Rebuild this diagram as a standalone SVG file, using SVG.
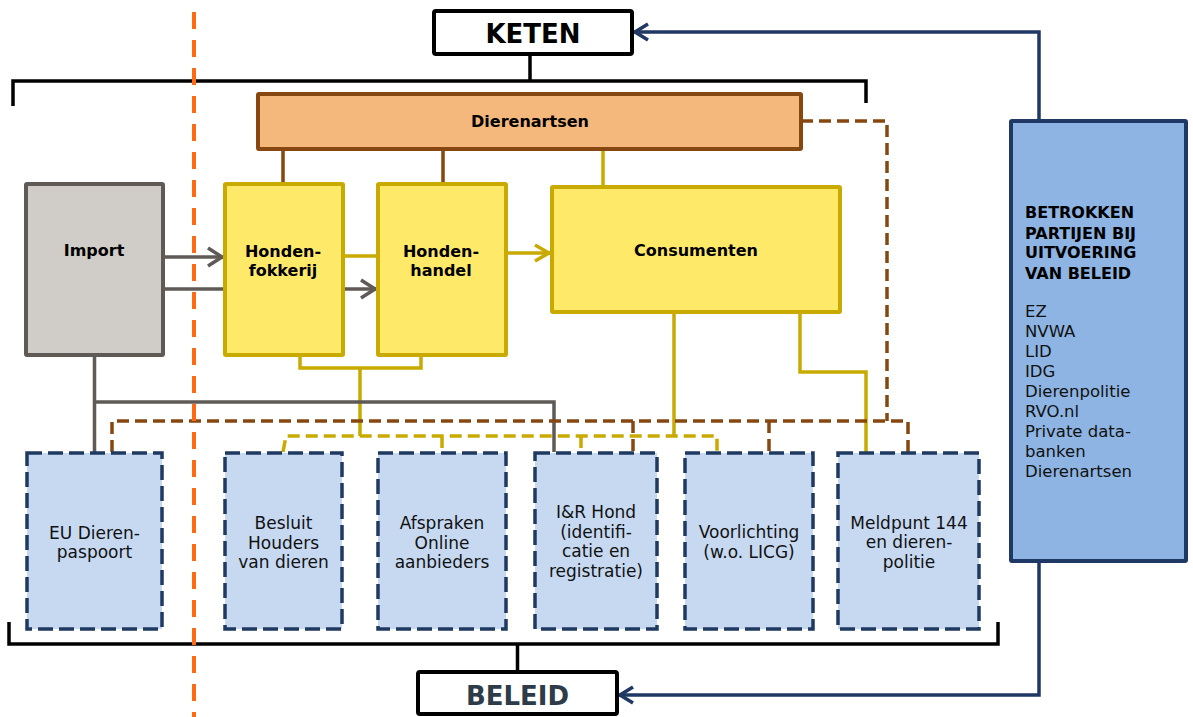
<svg xmlns="http://www.w3.org/2000/svg" width="1193" height="717" viewBox="0 0 1193 717">
<defs>
<style>
text{font-family:"DejaVu Sans",Verdana,"Liberation Sans",sans-serif}
.b{font-weight:bold;font-size:16px;fill:#000;text-anchor:middle}
.n{font-size:17px;fill:#111;text-anchor:middle}
.s{font-size:16.5px;fill:#111}
.sb{font-size:16px;font-weight:bold;fill:#000}
.title{font-weight:bold;font-size:26px;text-anchor:middle}
.frame{fill:#fff;stroke:#000;stroke-width:4}
.yellow{fill:#FFE969;stroke:#C8AA00;stroke-width:4}
.pol{fill:#C6D9F1;stroke:#1F3A60;stroke-width:3.5;stroke-dasharray:15 6}
.line{fill:none;stroke-width:3.5}
.blk{stroke:#000}
.brn{stroke:#874710}
.ylw{stroke:#C8AA00}
.gry{stroke:#5F5A55}
.nav{stroke:#1F3864}
.dsh{stroke-dasharray:12 6}
</style>
<marker id="ag" markerUnits="userSpaceOnUse" viewBox="-18 -11 20 22" markerWidth="20" markerHeight="22" refX="0" refY="0" orient="auto">
<path d="M-15 -9 L-1 0 L-15 9" fill="none" stroke="#5F5A55" stroke-width="3.5"/>
</marker>
<marker id="ay" markerUnits="userSpaceOnUse" viewBox="-18 -11 20 22" markerWidth="20" markerHeight="22" refX="0" refY="0" orient="auto">
<path d="M-15 -8 L-1 0 L-15 8" fill="none" stroke="#C8AA00" stroke-width="3.5"/>
</marker>
<marker id="an" markerUnits="userSpaceOnUse" viewBox="-18 -11 20 22" markerWidth="20" markerHeight="22" refX="0" refY="0" orient="auto">
<path d="M-14 -8 L-1 0 L-14 8" fill="none" stroke="#1F3864" stroke-width="3.5"/>
</marker>
</defs>
<rect width="1193" height="717" fill="#fff"/>

<g id="connectors">
<path class="line blk" d="M13 106 V81 H866 V103"/>
<path class="line blk" d="M530 54 V81"/>
<path class="line blk" d="M9 622 V644 H998 V622"/>
<path class="line blk" d="M517.5 644 V672"/>
<path class="line brn" d="M283 149 V184 M443 149 V184"/>
<path class="line ylw" d="M603 149 V187"/>
<path class="line gry" d="M163 257 H223" marker-end="url(#ag)"/>
<path class="line gry" d="M163 289 H376" marker-end="url(#ag)"/>
<path class="line ylw" d="M343 256 H378"/>
<path class="line ylw" d="M506 253 H550" marker-end="url(#ay)"/>
<path class="line ylw" d="M300 355 V368 H421 V355 M360 368 V436 M674 312 V436"/>
<path class="line ylw dsh" d="M283 452 L286 436 H717 V452 M442 436 V452 M581 436 V452"/>
<path class="line ylw" d="M800 312 V372 H866 V452"/>
<path class="line gry" d="M94.5 355 V452 M94.5 402 H554 V452"/>
<path class="line brn dsh" d="M801 121 H887 V421"/>
<path class="line brn dsh" d="M112 452 V421 H908 V452 M633 421 V452 M769 421 V452"/>
<path class="line nav" d="M1039 121 V32 H634" marker-end="url(#an)"/>
<path class="line nav" d="M1039 561 V695 H619" marker-end="url(#an)"/>
</g>

<g id="keten">
<rect class="frame" x="434" y="11" width="198" height="43" rx="2"/>
<text class="title" x="533" y="43" fill="#000">KETEN</text>
</g>
<g id="beleid">
<rect class="frame" x="418" y="672" width="199" height="42" rx="2"/>
<text class="title" x="517.5" y="705" fill="#2E3B48">BELEID</text>
</g>
<g id="dierenartsen">
<rect x="258" y="94" width="543" height="55" fill="#F4B77C" stroke="#874710" stroke-width="4" rx="1"/>
<text class="b" x="530" y="127">Dierenartsen</text>
</g>
<g id="import">
<rect x="26" y="184" width="137" height="171" fill="#D0CCC7" stroke="#5F5A55" stroke-width="4" rx="1"/>
<text class="b" x="94" y="256">Import</text>
</g>
<g id="hondenfokkerij">
<rect class="yellow" x="225" y="184" width="118" height="171" rx="1"/>
<text class="b" x="283" y="257">Honden-</text>
<text class="b" x="283" y="276">fokkerij</text>
</g>
<g id="hondenhandel">
<rect class="yellow" x="378" y="184" width="128" height="171" rx="1"/>
<text class="b" x="441" y="257">Honden-</text>
<text class="b" x="441" y="276">handel</text>
</g>
<g id="consumenten">
<rect class="yellow" x="552" y="187" width="288" height="125" rx="1"/>
<text class="b" x="696" y="256">Consumenten</text>
</g>
<g id="eu-dierenpaspoort">
<rect class="pol" x="27" y="453" width="135" height="176"/>
<text class="n" x="94.5" y="539">EU Dieren-</text>
<text class="n" x="94.5" y="558">paspoort</text>
</g>
<g id="besluit">
<rect class="pol" x="225" y="453" width="117" height="176"/>
<text class="n" x="283.5" y="529">Besluit</text>
<text class="n" x="283.5" y="549">Houders</text>
<text class="n" x="283.5" y="568">van dieren</text>
</g>
<g id="afspraken">
<rect class="pol" x="378" y="453" width="128" height="176"/>
<text class="n" x="442" y="529">Afspraken</text>
<text class="n" x="442" y="549">Online</text>
<text class="n" x="442" y="568">aanbieders</text>
</g>
<g id="ir-hond">
<rect class="pol" x="535" y="453" width="122" height="176"/>
<text class="n" x="596" y="518">I&amp;R Hond</text>
<text class="n" x="596" y="538">(identifi-</text>
<text class="n" x="596" y="557">catie en</text>
<text class="n" x="596" y="577">registratie)</text>
</g>
<g id="voorlichting">
<rect class="pol" x="685" y="453" width="128" height="176"/>
<text class="n" x="749" y="538">Voorlichting</text>
<text class="n" x="749" y="558">(w.o. LICG)</text>
</g>
<g id="meldpunt">
<rect class="pol" x="838" y="453" width="141" height="176"/>
<text class="n" x="909" y="529">Meldpunt 144</text>
<text class="n" x="909" y="548">en dieren-</text>
<text class="n" x="909" y="568">politie</text>
</g>
<g id="betrokken-partijen">
<rect x="1011" y="121" width="175" height="440" fill="#8EB4E3" stroke="#1F3864" stroke-width="4" rx="1"/>
<text class="sb" x="1025" y="218">BETROKKEN</text>
<text class="sb" x="1025" y="239">PARTIJEN BIJ</text>
<text class="sb" x="1025" y="258">UITVOERING</text>
<text class="sb" x="1025" y="279">VAN BELEID</text>
<text class="s" x="1025" y="317">EZ</text>
<text class="s" x="1025" y="337">NVWA</text>
<text class="s" x="1025" y="357">LID</text>
<text class="s" x="1025" y="377">IDG</text>
<text class="s" x="1025" y="397">Dierenpolitie</text>
<text class="s" x="1025" y="417">RVO.nl</text>
<text class="s" x="1025" y="437">Private data-</text>
<text class="s" x="1025" y="457">banken</text>
<text class="s" x="1025" y="477">Dierenartsen</text>
</g>

<g id="divider">
<path d="M194 12 V717" fill="none" stroke="#FF6A13" stroke-width="4" stroke-dasharray="17 11"/>
</g>
</svg>
